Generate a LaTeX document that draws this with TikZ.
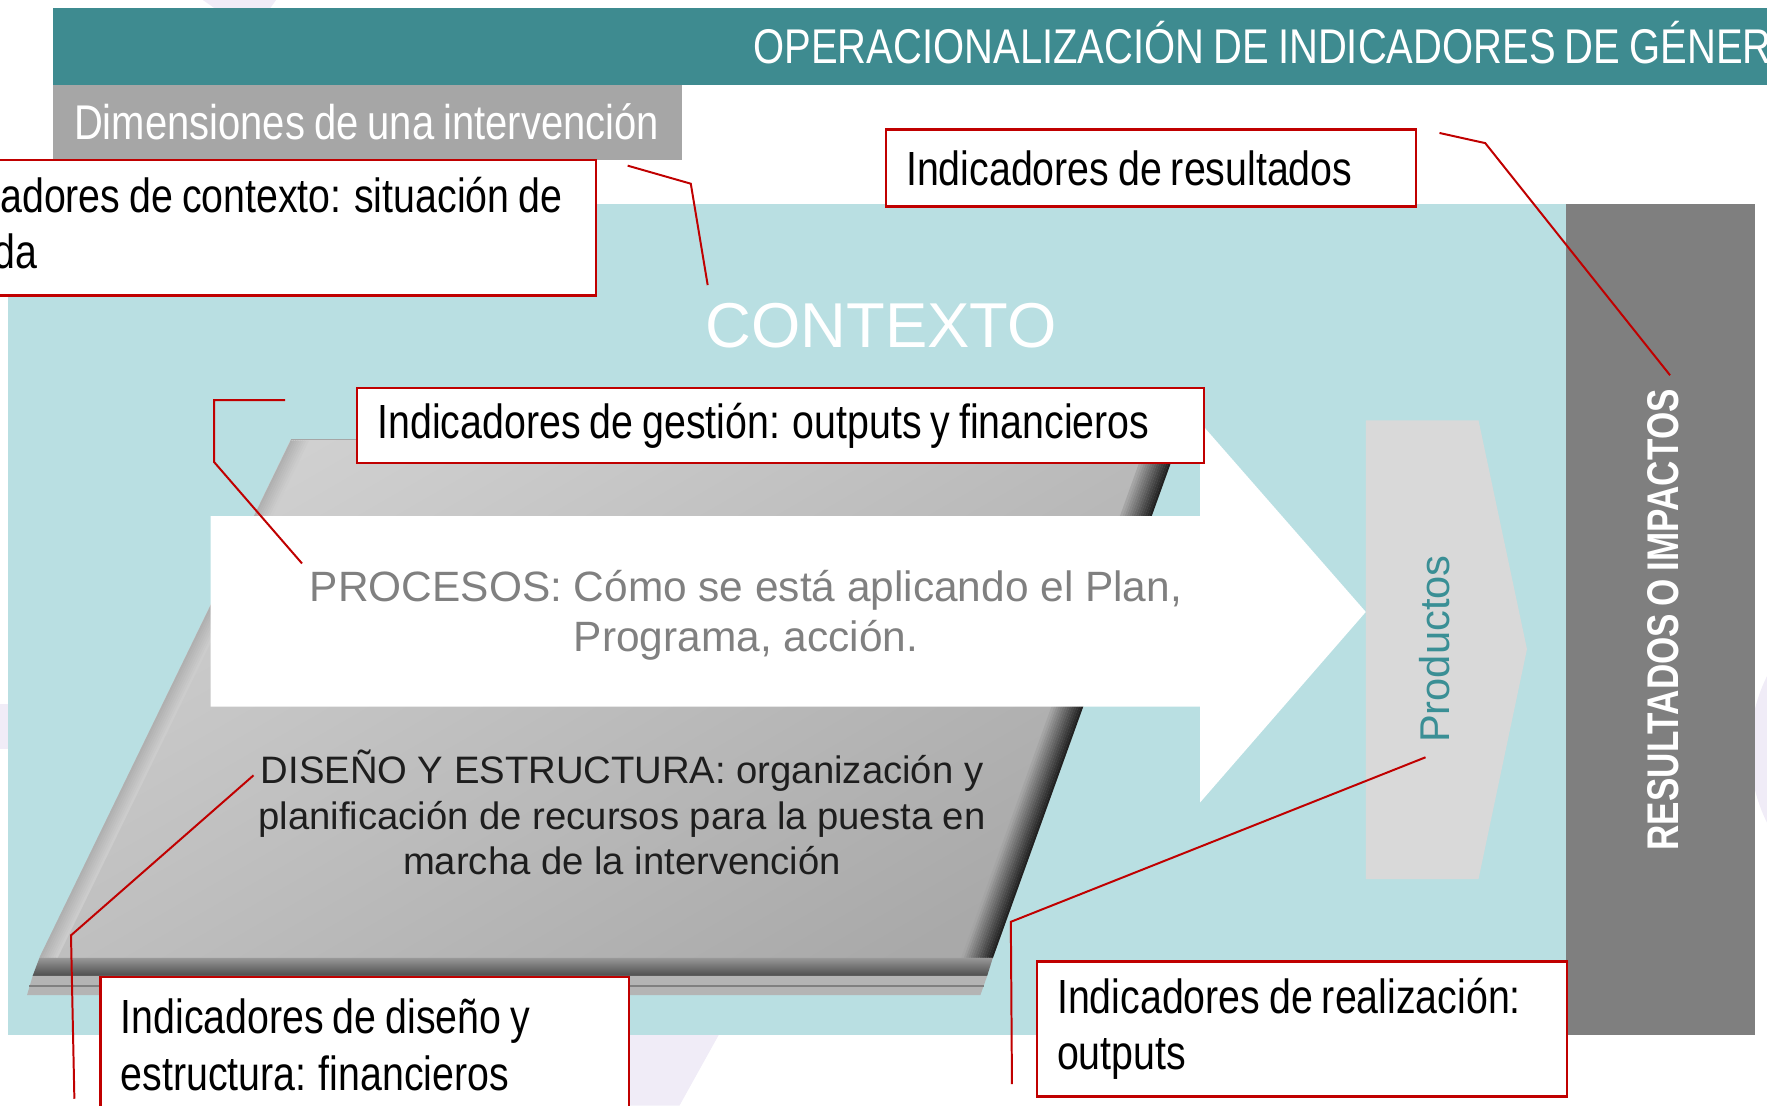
\documentclass[tikz,border=0pt]{standalone}
\usepackage{fontspec}
\setmainfont{Liberation Sans}
\newfontfamily\narrowfont[FakeStretch=0.82,WordSpace=0.82]{Liberation Sans}
\newfontfamily\narrowbold[FakeStretch=0.79,WordSpace=0.8]{Liberation Sans Bold}
\usetikzlibrary{calc}
\definecolor{hdrteal}{HTML}{3E8B90}
\definecolor{bgteal}{HTML}{B9DFE2}
\definecolor{dimgray}{HTML}{A6A6A6}
\definecolor{bargray}{HTML}{7F7F7F}
\definecolor{prodgray}{HTML}{D9D9D9}
\definecolor{prodteal}{HTML}{3A8F95}
\definecolor{calloutred}{HTML}{C00000}
\definecolor{procgray}{HTML}{808080}
\definecolor{disenotext}{HTML}{1E1E1E}
\definecolor{slablight}{HTML}{D0D0D0}
\definecolor{slabdark}{HTML}{A9A9A9}
\definecolor{slabfront}{HTML}{B4B4B4}
\definecolor{wmlav}{HTML}{F0ECF7}
\tikzset{
  titletext/.style={text=white, inner sep=0pt, font=\narrowfont\fontsize{12.3}{14}\selectfont},
  callout/.style={draw=calloutred, line width=0.6pt, fill=white, anchor=north west,
    align=flush left, inner xsep=0.18cm, inner ysep=0pt, text=black,
    font=\narrowfont\fontsize{12.1}{14.2}\selectfont},
  leader/.style={draw=calloutred, line width=0.5pt},
}

\begin{document}
\begin{tikzpicture}[x=0.01cm,y=-0.01cm]
  \useasboundingbox (0,0) rectangle (1568,981);
  \clip (0,0) rectangle (1568,981);

  % faint logo in the back
  \fill[wmlav] (505,981) -- (548,900) -- (648,900) -- (603,981) -- cycle;
  \fill[wmlav] (1568,600) .. controls (1548,640) and (1548,690) .. (1568,730) -- cycle;
  \fill[wmlav] (180,0) -- (245,0) -- (240,7) -- (190,7) -- cycle;
  \fill[wmlav] (0,625) rectangle (7,665);

  % title bars
  \fill[hdrteal] (47,7) rectangle (1568,75);
  \node[titletext, anchor=base west] (titulo) at (668,56) {OPERACIONALIZACIÓN DE INDICADORES DE GÉNERO};
  \fill[dimgray] (47,75) rectangle (605,142);
  \node[titletext, anchor=base west] (dimensiones) at (65,124) {Dimensiones de una intervención};

  % context panel and results bar
  \fill[bgteal] (7,181) rectangle (1390,918);
  \fill[bargray] (1390,181) rectangle (1557,918);
  \node[text=white, anchor=base, font=\fontsize{16}{19}\selectfont] (contexto) at (782,308) {CONTEXTO};
  \node[rotate=90, text=white, font=\narrowbold\fontsize{11.2}{13}\selectfont] (impactos) at (1476,550) {RESULTADOS O IMPACTOS};

  % slab: design and structure
  \shade[top color=slablight, bottom color=slabdark, shading angle=30]
    (258,390) -- (1046,390) -- (881,850) -- (35,850) -- cycle;
  \foreach \k in {0,...,7}{
    \pgfmathtruncatemacro{\p}{60+5*\k}
    \draw[line width=0.6pt, slablight!\p!gray] (259+2*\k,391) -- (36+2*\k,850);
  }
  \foreach \k in {0,...,13}{
    \pgfmathtruncatemacro{\p}{20+6*\k}
    \draw[line width=0.6pt, slabdark!\p!black] (1045-2*\k,391) -- (880-2*\k,850);
  }
  \shade[top color=slabdark!90!black, bottom color=black!70] (35,850) -- (881,850) -- (876,866) -- (29,866) -- cycle;
  \fill[slabfront] (29,866) -- (876,866) -- (870,883) -- (24,883) -- cycle;
  \draw[gray, line width=0.4pt] (26,875) -- (873,875);
  \draw[gray!70, line width=0.4pt] (258,390) -- (1046,390);

  % process arrow
  \fill[white] (187,458) -- (1065,458) -- (1065,375) -- (1212,543) -- (1065,712) -- (1065,627) -- (187,627) -- cycle;
  \node[text=procgray, align=center, font=\fontsize{10.7}{12.8}\selectfont] (procesos) at (662,546)
    {PROCESOS: Cómo se está aplicando el Plan,\\Programa, acción.};
  \node[text=disenotext, align=center, font=\fontsize{9.65}{11.4}\selectfont] (diseno) at (552,721)
    {DISEÑO Y ESTRUCTURA: organización y\\planificación de recursos para la puesta en\\marcha de la intervención};

  % products
  \fill[prodgray] (1212,373) -- (1312,373) -- (1355,576) -- (1312,780) -- (1212,780) -- cycle;
  \node[rotate=90, text=prodteal, font=\fontsize{10.5}{12}\selectfont] (productos) at (1273,576) {Productos};

  % callouts
  \node[callout, anchor=north east, inner xsep=0.3cm, minimum height=1.2cm] (cb-contexto) at (530,141)
    {Indicadores de contexto: situación de\\partida};
  \node[callout, text width=4.34cm, minimum height=0.68cm] (cb-resultados) at (785,114)
    {Indicadores de resultados};
  \node[callout, text width=7.15cm, minimum height=0.67cm] (cb-gestion) at (316,343)
    {Indicadores de gestión: outputs y financieros};
  \node[callout, text width=4.33cm, minimum height=1.2cm] (cb-diseno) at (88,866)
    {Indicadores de diseño y\\estructura: financieros};
  \node[callout, text width=4.34cm, minimum height=1.2cm] (cb-realizacion) at (919,852)
    {Indicadores de realización:\\outputs};

  % leaders
  \coordinate (ctx-bend) at (613,163);
  \coordinate (ctx-tip) at (628,253);
  \coordinate (res-bend) at (1318,127);
  \coordinate (res-tip) at (1482,333);
  \coordinate (ges-c1) at (190,355);
  \coordinate (ges-c2) at (190,410);
  \coordinate (ges-tip) at (268,500);
  \coordinate (dis-tip) at (225,688);
  \coordinate (dis-bend) at (63,830);
  \coordinate (rea-tip) at (1265,672);
  \coordinate (rea-bend) at (897,818);
  \draw[leader] ($(cb-contexto.north east)+(27,6)$) -- (ctx-bend) -- (ctx-tip);
  \draw[leader] ($(cb-resultados.north east)+(20,4)$) -- (res-bend) -- (res-tip);
  \draw[leader] ($(cb-gestion.north west)+(-63,12)$) -- (ges-c1) -- (ges-c2) -- (ges-tip);
  \draw[leader] (dis-tip) -- (dis-bend) -- ($(cb-diseno.north west)+(-22,109)$);
  \draw[leader] (rea-tip) -- (rea-bend) -- ($(cb-realizacion.north west)+(-21,110)$);
\end{tikzpicture}
\end{document}
